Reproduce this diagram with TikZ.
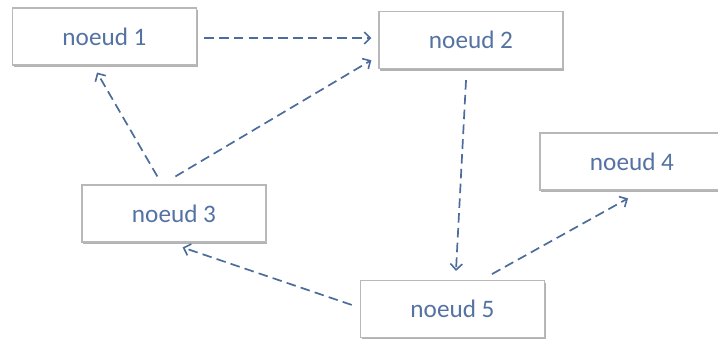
\documentclass[tikz,border=0pt]{standalone}
\usepackage{fontspec}
\setmainfont{Carlito}
\usetikzlibrary{arrows.meta,shadows,calc}
\definecolor{linkblue}{HTML}{4C6C9C}
\definecolor{labelblue}{HTML}{5473A3}
\definecolor{boxedge}{HTML}{B8B8B8}
\tikzset{
  nodebox/.style={draw=boxedge, line width=0.6pt, fill=white,
    minimum width=92pt, minimum height=28.5pt, inner sep=0pt,
    text=labelblue, font=\fontsize{12.6}{14}\selectfont,
    drop shadow={shadow xshift=0.5pt, shadow yshift=-1.1pt, fill=black!55, opacity=0.55}},
  link/.style={draw=linkblue, line width=0.85pt, dash pattern=on 4.8pt off 2.6pt,
    -{Straight Barb[length=3pt,width=6pt,line width=0.8pt]}}
}
\begin{document}
\begin{tikzpicture}[x=0.5pt,y=-0.5pt]
  \useasboundingbox (0,0) rectangle (718,338);
  % boxes
  \node[nodebox] (n1) at (104.5,36.5) {noeud 1};
  \node[nodebox] (n2) at (471,40) {noeud 2};
  \node[nodebox] (n3) at (174,213.5) {noeud 3};
  \node[nodebox] (n4) at (632,161.5) {noeud 4};
  \node[nodebox] (n5) at (452.5,309) {noeud 5};
  % connectors
  \draw[link, shorten <=3.5pt, shorten >=3.5pt]
    ($(n1.east)+(0,1.5)$) -- ($(n2.west)+(0,-2)$);
  \draw[link, shorten <=4.6pt, shorten >=4pt]
    ($(n3.north)+(-12,0)$) -- ($(n1.south)+(-11.5,0)$);
  \draw[link, shorten <=7.8pt, shorten >=4.1pt]
    ($(n3.north)+(-12,0)$) -- ($(n2.west)+(0,16)$);
  \draw[link, shorten <=5.5pt, shorten >=4.5pt]
    ($(n2.south)+(-4.4,0)$) -- ($(n5.north)+(3,0)$);
  \draw[link, shorten <=6pt, shorten >=8pt]
    ($(n5.north)+(29,0)$) -- ($(n4.south)+(10,0)$);
  \draw[link, shorten <=4.3pt, shorten >=7.5pt]
    ($(n5.west)+(0,-1.3)$) -- ($(n3.south)+(-5.6,0)$);
\end{tikzpicture}
\end{document}
